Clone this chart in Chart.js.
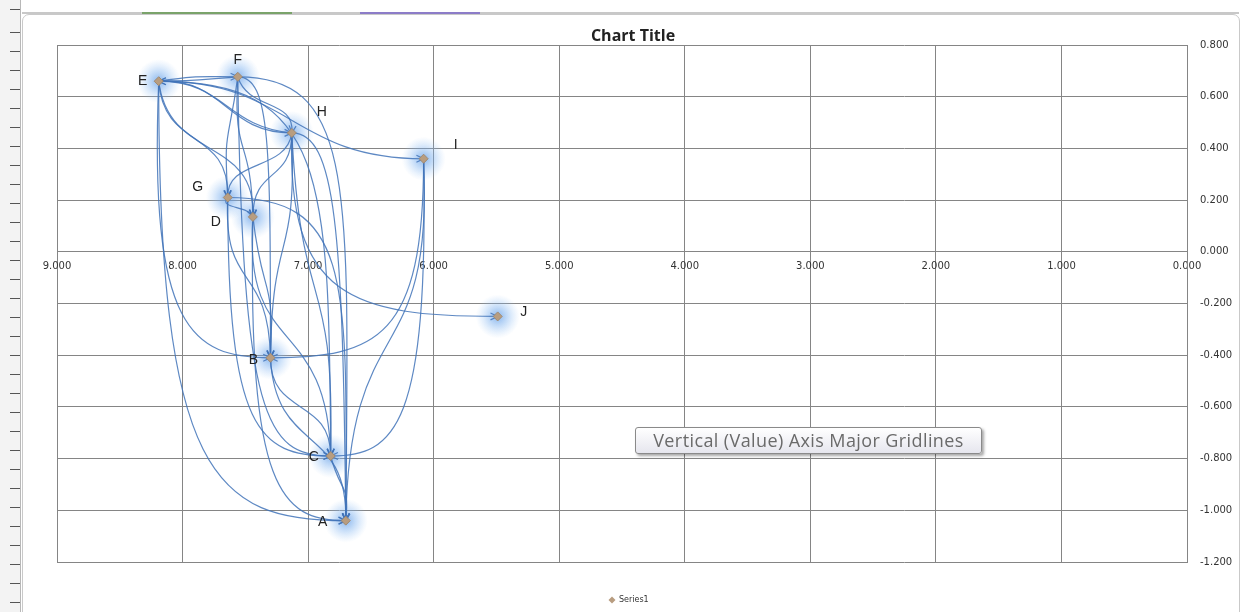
<!DOCTYPE html>
<html>
<head>
<meta charset="utf-8">
<script src="https://cdn.jsdelivr.net/npm/chart.js@4"></script>
<style>
  body { margin: 0; background: #fff; width: 1243px; height: 612px; overflow: hidden; position: relative; }
  #ruler { position: absolute; left: 0; top: 0; width: 20px; height: 612px; background: #f3f3f3; border-right: 1px solid #b8b8b8;
    background-image: repeating-linear-gradient(to bottom, transparent 0px, transparent 18px, #555 18px, #555 19px);
    background-size: 10px 100%; background-repeat: repeat-y; background-position: 10px 14px; }
  #topbar { position: absolute; left: 22px; top: 12px; width: 1217px; height: 2px; background: #c8c8c8; }
  #tab1 { position: absolute; left: 142px; top: 12px; width: 150px; height: 2px; background: #7aa36a; }
  #tab2 { position: absolute; left: 360px; top: 12px; width: 120px; height: 2px; background: #8c7cc8; }
  #frame { position: absolute; left: 22px; top: 14px; width: 1216px; height: 610px; border: 1px solid #c9c9c9; border-radius: 7px; }
  #chartWrap { position: absolute; left: 0; top: 0; }
  #tip { position: absolute; left: 635px; top: 427px; width: 345px; height: 25px; border: 1px solid #8a8a8a; border-radius: 3px;
    background: linear-gradient(#ffffff, #e6e6ee); box-shadow: 2px 2px 3px rgba(0,0,0,0.35);
    font-family: "Open Sans", sans-serif; font-size: 18px; letter-spacing: 0.4px; color: #6a6a6a; line-height: 25px;
    text-align: center; white-space: nowrap; }
</style>
</head>
<body>
<div id="ruler"></div>
<div id="topbar"></div>
<div id="tab1"></div>
<div id="tab2"></div>
<div id="frame"></div>
<div id="chartWrap"><canvas id="scatterChart" width="1243" height="612"></canvas></div>
<div id="tip">Vertical (Value) Axis Major Gridlines</div>
<script>
// point names and their values
var pointNames = ["A", "B", "C", "D", "E", "F", "G", "H", "I", "J"];
var xValues = [6.70, 7.30, 6.82, 7.44, 8.19, 7.56, 7.64, 7.13, 6.08, 5.49];
var yValues = [-1.04, -0.41, -0.79, 0.135, 0.66, 0.677, 0.21, 0.46, 0.36, -0.25];

// arrows drawn between the points (from, to)
var links = [
  ["E","F"], ["E","H"], ["E","I"], ["E","G"], ["E","D"], ["E","B"], ["E","C"], ["E","A"],
  ["F","E"], ["F","H"], ["F","G"], ["F","D"], ["F","B"], ["F","C"], ["F","A"],
  ["H","E"], ["H","G"], ["H","D"], ["H","B"], ["H","C"], ["H","A"], ["H","J"],
  ["I","B"], ["I","C"], ["I","A"],
  ["G","D"], ["G","B"], ["G","C"], ["G","A"],
  ["D","B"], ["D","C"], ["D","A"],
  ["B","C"], ["B","A"], ["C","A"]
];

var xMin = 0, xMax = 9, xStep = 1;
var yMin = -1.2, yMax = 0.8, yStep = 0.2;

var chartTitle = "Chart Title";

var labelOffsets = {
  A: [-23, 2], B: [-17, 2], C: [-17, 1], D: [-37, 5], E: [-16, 0],
  F: [0, -17], G: [-30, -10], H: [30, -21], I: [32, -14], J: [26, -4]
};

var points = xValues.map(function (x, i) { return { x: x, y: yValues[i] }; });

function pixelOf(chart, name) {
  var i = pointNames.indexOf(name);
  return {
    x: chart.scales.x.getPixelForValue(xValues[i]),
    y: chart.scales.y.getPixelForValue(yValues[i])
  };
}

var arrowPlugin = {
  id: "arrows",
  beforeDatasetsDraw: function (chart) {
    var ctx = chart.ctx;
    ctx.save();
    // blue glow round each point
    pointNames.forEach(function (n) {
      var p = pixelOf(chart, n);
      var g = ctx.createRadialGradient(p.x, p.y, 0, p.x, p.y, 22);
      g.addColorStop(0, "rgba(95,155,230,0.75)");
      g.addColorStop(0.5, "rgba(125,178,240,0.38)");
      g.addColorStop(1, "rgba(160,200,245,0)");
      ctx.fillStyle = g;
      ctx.beginPath();
      ctx.arc(p.x, p.y, 22, 0, Math.PI * 2);
      ctx.fill();
    });
    // curved connectors
    ctx.strokeStyle = "rgba(65,115,185,0.85)";
    ctx.lineWidth = 1.2;
    links.forEach(function (l, k) {
      var a = pixelOf(chart, l[0]), b = pixelOf(chart, l[1]);
      var dx = b.x - a.x, dy = b.y - a.y;
      var off = ((k % 5) - 2) * 5;
      var c1, c2;
      if (Math.abs(dx) > Math.abs(dy) * 1.3) {
        c1 = { x: a.x + dx * 0.5, y: a.y + off * 0.6 };
        c2 = { x: b.x - dx * 0.5, y: b.y };
      } else if (dy > 250 && dx > 30 && k % 2 === 0) {
        // across first, then straight down into the target
        c1 = { x: b.x + off, y: a.y };
        c2 = { x: b.x + off * 0.3, y: a.y + dy * 0.25 };
      } else if (Math.abs(dx) > 90 && Math.abs(dy) > 150) {
        c1 = { x: a.x + off, y: b.y - dy * 0.1 };
        c2 = { x: a.x + dx * 0.3, y: b.y };
      } else {
        c1 = { x: a.x + off, y: a.y + dy * 0.6 };
        c2 = { x: b.x + off * 0.4, y: b.y - dy * 0.6 };
      }
      ctx.beginPath();
      ctx.moveTo(a.x, a.y);
      ctx.bezierCurveTo(c1.x, c1.y, c2.x, c2.y, b.x, b.y);
      ctx.stroke();
      // open arrow head
      var ang = Math.atan2(b.y - c2.y, b.x - c2.x);
      ctx.beginPath();
      ctx.moveTo(b.x - 8 * Math.cos(ang - 0.45), b.y - 8 * Math.sin(ang - 0.45));
      ctx.lineTo(b.x, b.y);
      ctx.lineTo(b.x - 8 * Math.cos(ang + 0.45), b.y - 8 * Math.sin(ang + 0.45));
      ctx.stroke();
    });
    ctx.restore();
  },
  afterDatasetsDraw: function (chart) {
    var ctx = chart.ctx;
    ctx.save();
    ctx.font = "14px 'Liberation Sans', sans-serif";
    ctx.fillStyle = "#222";
    ctx.textAlign = "center";
    ctx.textBaseline = "middle";
    pointNames.forEach(function (n) {
      var p = pixelOf(chart, n);
      var o = labelOffsets[n];
      ctx.fillText(n, p.x + o[0], p.y + o[1]);
    });
    ctx.restore();
  },
  afterDraw: function (chart) {
    var ctx = chart.ctx;
    var area = chart.chartArea;
    ctx.save();
    // title
    ctx.font = "bold 16px 'Open Sans', sans-serif";
    ctx.fillStyle = "#222";
    ctx.textAlign = "center";
    ctx.textBaseline = "middle";
    ctx.fillText(chartTitle, 633, area.top - 9);
    // legend
    var ds = chart.data.datasets[0];
    var lx = 612, ly = area.bottom + 38;
    ctx.fillStyle = ds.backgroundColor;
    ctx.beginPath();
    ctx.moveTo(lx, ly - 3.5);
    ctx.lineTo(lx + 3.5, ly);
    ctx.lineTo(lx, ly + 3.5);
    ctx.lineTo(lx - 3.5, ly);
    ctx.closePath();
    ctx.fill();
    ctx.font = "8px 'DejaVu Sans', sans-serif";
    ctx.fillStyle = "#333";
    ctx.textAlign = "left";
    ctx.fillText(ds.label, lx + 7, ly);
    ctx.restore();
  }
};

Chart.defaults.font.family = "'DejaVu Sans', sans-serif";

new Chart("scatterChart", {
  type: "scatter",
  data: {
    datasets: [{
      label: "Series1",
      data: points,
      pointStyle: "rectRot",
      pointRadius: 4.5,
      backgroundColor: "#b89d80",
      borderColor: "#9e8a74",
      borderWidth: 1
    }]
  },
  options: {
    responsive: false,
    animation: false,
    events: [],
    layout: { padding: { left: 57, right: 0, top: 45, bottom: 50 } },
    plugins: {
      title: { display: false },
      legend: { display: false },
      tooltip: { enabled: false }
    },
    scales: {
      x: {
        type: "linear",
        position: { y: 0 },
        reverse: true,
        min: xMin,
        max: xMax,
        grid: { color: "#858585", lineWidth: 1, drawTicks: false },
        border: { color: "#858585" },
        ticks: {
          stepSize: xStep,
          padding: 9,
          color: "#333",
          font: { size: 10 },
          callback: function (v) { return Number(v).toFixed(3); }
        }
      },
      y: {
        type: "linear",
        position: "right",
        min: yMin,
        max: yMax,
        grid: { color: "#858585", lineWidth: 1, drawTicks: false },
        border: { color: "#858585" },
        afterFit: function (s) { s.width = 56; },
        ticks: {
          stepSize: yStep,
          padding: 13,
          color: "#333",
          font: { size: 10 },
          callback: function (v) { return Number(v).toFixed(3); }
        }
      }
    }
  },
  plugins: [arrowPlugin]
});
</script>
</body>
</html>
